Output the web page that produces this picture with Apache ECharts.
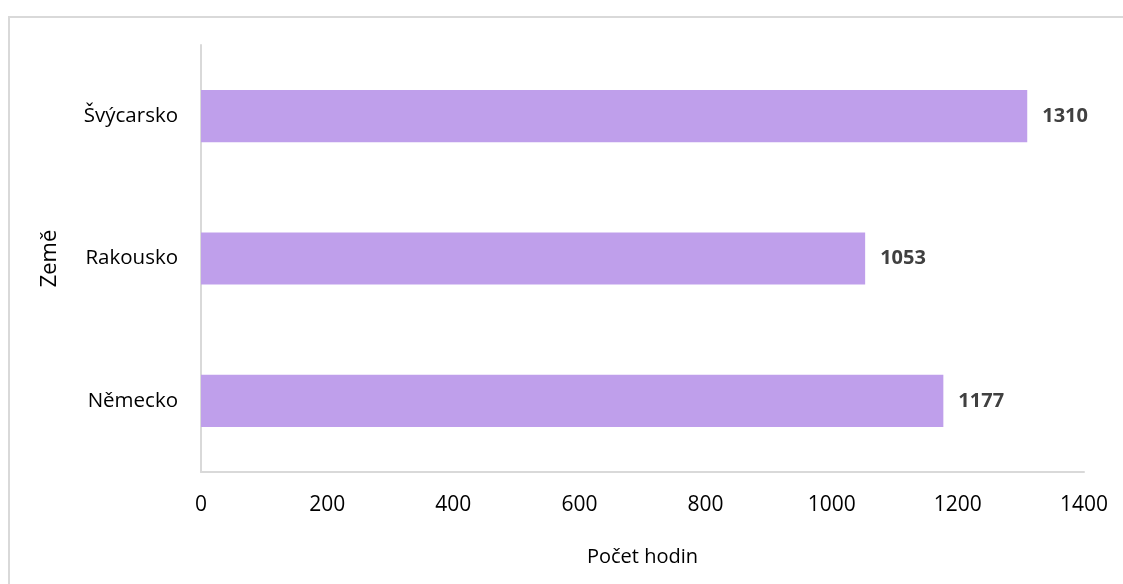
<!DOCTYPE html>
<html>
<head>
<meta charset="utf-8">
<script src="https://cdn.jsdelivr.net/npm/echarts@6/dist/echarts.min.js"></script>
<style>
  html, body { margin: 0; padding: 0; background: #ffffff; }
  #chart { width: 1123px; height: 584px; }
</style>
</head>
<body>
<div id="chart"></div>
<script>
// Countries listed bottom to top on the category axis
const countries = ['Německo', 'Rakousko', 'Švýcarsko'];
// Hours per country
const hours = [1177, 1053, 1310];
// Value axis range
const axisMin = 0;
const axisMax = 1400;
const axisStep = 200;

const font = '"Open Sans", "Noto Sans", sans-serif';
const chart = echarts.init(document.getElementById('chart'), null, { renderer: 'canvas' });

chart.setOption({
  animation: false,
  backgroundColor: '#ffffff',
  graphic: [{
    type: 'rect',
    shape: { x: 9, y: 17, width: 1200, height: 700 },
    style: { fill: 'none', stroke: '#d9d9d9', lineWidth: 2 },
    silent: true,
    z: -1
  }],
  grid: { left: 201, right: 39, top: 45, bottom: 112, containLabel: false },
  xAxis: {
    type: 'value',
    min: axisMin,
    max: axisMax,
    interval: axisStep,
    name: 'Počet hodin',
    nameLocation: 'middle',
    nameGap: 75,
    nameTextStyle: { fontFamily: font, fontSize: 20, color: '#000000' },
    axisLine: { show: true, lineStyle: { color: '#d9d9d9', width: 2 } },
    axisTick: { show: false },
    splitLine: { show: false },
    axisLabel: {
      fontFamily: font, fontSize: 21, color: '#000000', margin: 23,
      formatter: v => String(v)
    }
  },
  yAxis: {
    type: 'category',
    data: countries,
    name: 'Země',
    nameLocation: 'middle',
    nameGap: 140,
    nameRotate: 90,
    nameTextStyle: { fontFamily: font, fontSize: 22, color: '#000000' },
    axisLine: { show: true, lineStyle: { color: '#d9d9d9', width: 2 } },
    axisTick: { show: false },
    splitLine: { show: false },
    axisLabel: { fontFamily: font, fontSize: 20.5, color: '#000000', margin: 23 }
  },
  series: [{
    type: 'bar',
    data: hours,
    barWidth: '36.6%',
    itemStyle: { color: '#bf9feb' },
    label: {
      show: true,
      position: 'right',
      distance: 15,
      fontFamily: font,
      fontSize: 20,
      fontWeight: 'bold',
      color: '#404040'
    }
  }]
});
</script>
</body>
</html>
